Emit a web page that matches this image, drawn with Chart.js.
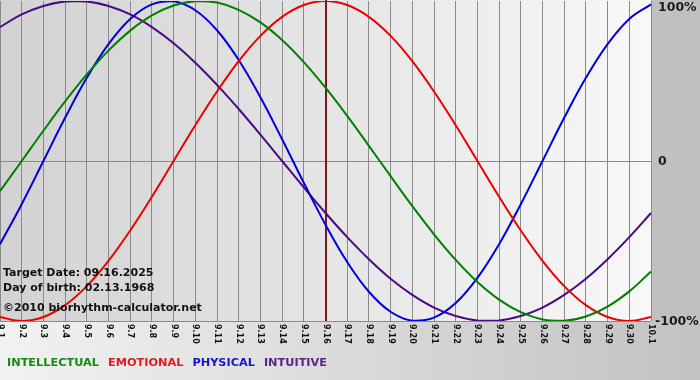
<!DOCTYPE html>
<html lang="en">
<head>
    <meta charset="UTF-8">
    <title>Biorhythm</title>
    <script src="https://cdn.jsdelivr.net/npm/chart.js"></script>
    <style>
        html, body { margin: 0; padding: 0; background: #ffffff; }
        #wrap { width: 700px; height: 380px; }
    </style>
</head>
<body>

<div id="wrap"><canvas id="bioChart" width="700" height="380"></canvas></div>

<script>
    // days shown on the x axis (9.1 .. 10.1)
    const days = ["9.1","9.2","9.3","9.4","9.5","9.6","9.7","9.8","9.9","9.10",
                  "9.11","9.12","9.13","9.14","9.15","9.16","9.17","9.18","9.19","9.20",
                  "9.21","9.22","9.23","9.24","9.25","9.26","9.27","9.28","9.29","9.30","10.1"];

    // values in percent
    const intellectual = [-18.9, 0, 18.9, 37.2, 54.1, 69.0, 81.5, 91.0, 97.2, 99.9,
                          99.0, 94.5, 86.6, 75.6, 61.8, 45.8, 28.2, 9.5, -9.5, -28.2,
                          -45.8, -61.8, -75.6, -86.6, -94.5, -99.0, -99.9, -97.2, -91.0, -81.5, -69.0];
    const emotional = [-97.5, -100, -97.5, -90.1, -78.2, -62.4, -43.4, -22.3, 0, 22.3,
                       43.4, 62.4, 78.2, 90.1, 97.5, 100, 97.5, 90.1, 78.2, 62.4,
                       43.4, 22.3, 0, -22.3, -43.4, -62.4, -78.2, -90.1, -97.5, -100, -97.5];
    const physical = [-52.0, -27.0, 0, 27.0, 52.0, 73.1, 88.8, 97.9, 99.8, 94.2,
                      81.7, 63.1, 39.8, 13.6, -13.6, -39.8, -63.1, -81.7, -94.2, -99.8,
                      -97.9, -88.8, -73.1, -52.0, -27.0, 0, 27.0, 52.0, 73.1, 88.8, 97.9];
    const intuitive = [83.7, 91.6, 96.9, 99.7, 99.7, 96.9, 91.6, 83.7, 73.6, 61.4,
                       47.6, 32.5, 16.5, 0, -16.5, -32.5, -47.6, -61.4, -73.6, -83.7,
                       -91.6, -96.9, -99.7, -99.7, -96.9, -91.6, -83.7, -73.6, -61.4, -47.6, -32.5];

    const yTicks = [-100, 0, 100];
    const targetDay = "9.16";
    const infoLines = ["Target Date: 09.16.2025", "Day of birth: 02.13.1968", "\u00A92010 biorhythm-calculator.net"];

    const FONT = "'DejaVu Sans', Verdana, sans-serif";

    // backgrounds, target marker, rotated day labels, % labels, info text, legend
    const decor = {
        id: "decor",
        beforeDraw(chart) {
            const ctx = chart.ctx;
            const a = chart.chartArea;
            const W = chart.width, H = chart.height;
            ctx.save();
            let g = ctx.createLinearGradient(0, 0, W, 0);
            g.addColorStop(0, "#f2f2f2");
            g.addColorStop(1, "#c2c2c2");
            ctx.fillStyle = g;
            ctx.fillRect(0, 0, W, H);
            ctx.fillStyle = "#c0c0c0";
            ctx.fillRect(a.right, 0, W - a.right, a.bottom);
            g = ctx.createLinearGradient(a.left, 0, a.right, 0);
            g.addColorStop(0, "#d2d2d2");
            g.addColorStop(1, "#f8f8f8");
            ctx.fillStyle = g;
            ctx.fillRect(0, 0, a.right, a.bottom);
            ctx.restore();
        },
        beforeDatasetsDraw(chart) {
            const ctx = chart.ctx;
            const a = chart.chartArea;
            const x = Math.round(chart.scales.x.getPixelForValue(days.indexOf(targetDay)));
            ctx.save();
            ctx.strokeStyle = "#7a1818";
            ctx.lineWidth = 2;
            ctx.beginPath();
            ctx.moveTo(x, 0);
            ctx.lineTo(x, a.bottom);
            ctx.stroke();
            ctx.restore();
        },
        afterDraw(chart) {
            const ctx = chart.ctx;
            const a = chart.chartArea;
            const xs = chart.scales.x, ys = chart.scales.y;
            ctx.save();

            // day labels, turned clockwise
            ctx.fillStyle = "#111";
            ctx.font = "bold 8px " + FONT;
            ctx.textAlign = "left";
            ctx.textBaseline = "middle";
            days.forEach((d, i) => {
                ctx.save();
                ctx.translate(Math.round(xs.getPixelForValue(i)) + 0.5, a.bottom + 3);
                ctx.rotate(Math.PI / 2);
                ctx.fillText(d, 0, 0);
                ctx.restore();
            });

            // percent labels on the right
            ctx.font = "bold 12.5px " + FONT;
            ctx.fillStyle = "#1a1a1a";
            yTicks.forEach(v => {
                const y = Math.max(ys.getPixelForValue(v), 7);
                ctx.fillText(v === 0 ? "0" : v + "%", a.right + (v < 0 ? 4 : 7), y + 1);
            });

            // info text
            ctx.font = "bold 11px " + FONT;
            ctx.textBaseline = "alphabetic";
            ctx.fillStyle = "#111";
            ctx.fillText(infoLines[0], 3, 276);
            ctx.fillText(infoLines[1], 3, 291);
            ctx.fillText(infoLines[2], 3, 311);

            // legend
            ctx.font = "bold 11.3px " + FONT;
            let lx = 7;
            chart.data.datasets.forEach(ds => {
                ctx.fillStyle = ds.legendColor;
                ctx.fillText(ds.label, lx, 366);
                lx += ctx.measureText(ds.label).width + 9;
            });
            ctx.restore();
        }
    };

    const ctx = document.getElementById("bioChart").getContext("2d");
    new Chart(ctx, {
        type: "line",
        data: {
            labels: days,
            datasets: [
                { label: "INTELLECTUAL", data: intellectual, borderColor: "#008000", legendColor: "#138a13" },
                { label: "EMOTIONAL", data: emotional, borderColor: "#ee0000", legendColor: "#e01b1b" },
                { label: "PHYSICAL", data: physical, borderColor: "#0000dd", legendColor: "#1515cc" },
                { label: "INTUITIVE", data: intuitive, borderColor: "#4b0a85", legendColor: "#5a2388" }
            ].map(d => Object.assign(d, { borderWidth: 2, pointRadius: 0, tension: 0.4, fill: false }))
        },
        options: {
            responsive: false,
            animation: false,
            layout: { padding: { left: 0, right: 49, top: 1, bottom: 59 } },
            plugins: {
                legend: { display: false },
                tooltip: { enabled: false }
            },
            scales: {
                x: {
                    offset: false,
                    grid: { color: "#8a8a8a", lineWidth: 1, drawTicks: false },
                    border: { display: false },
                    ticks: { display: false }
                },
                y: {
                    position: "right",
                    min: -100,
                    max: 100,
                    afterBuildTicks: s => { s.ticks = yTicks.map(v => ({ value: v })); },
                    grid: {
                        color: c => (c.tick && c.tick.value === 100) ? "rgba(0,0,0,0)" : "#8a8a8a",
                        lineWidth: 1,
                        drawTicks: false
                    },
                    border: { display: false },
                    ticks: { display: false }
                }
            }
        },
        plugins: [decor]
    });
</script>

</body>
</html>
